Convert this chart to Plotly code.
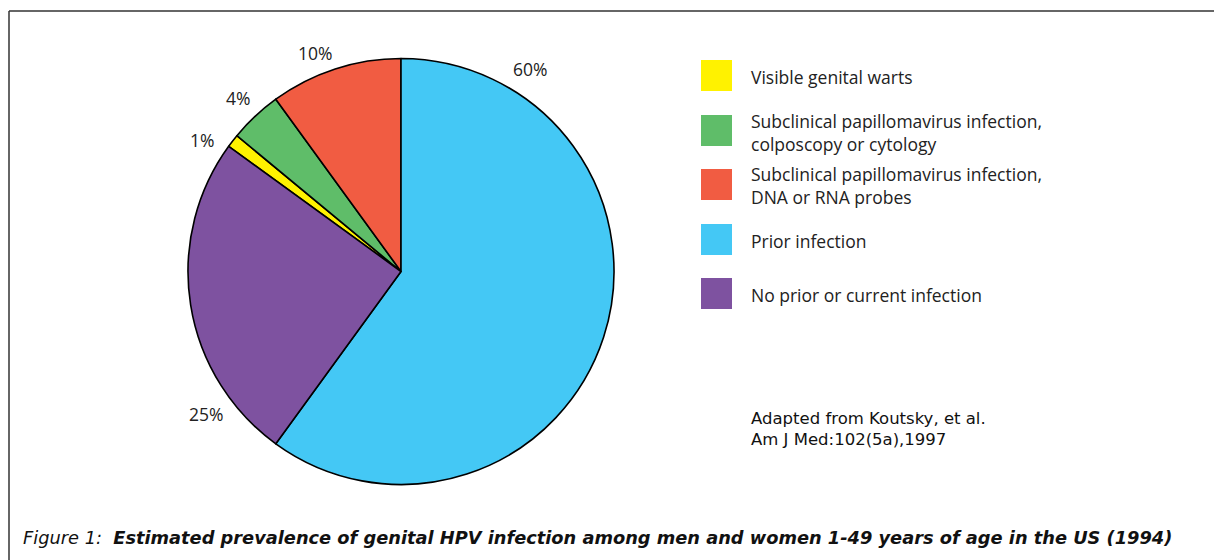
import plotly.graph_objects as go

W, H = 1214, 560

# ---- data ----
categories = [
    "Visible genital warts",
    "Subclinical papillomavirus infection,\ncolposcopy or cytology",
    "Subclinical papillomavirus infection,\nDNA or RNA probes",
    "Prior infection",
    "No prior or current infection",
]
values = [1, 4, 10, 60, 25]
colors = ["#FFF200", "#5FBD69", "#F15C42", "#44C8F5", "#7E52A0"]

caption_lead = "Figure 1:"
caption_text = "Estimated prevalence of genital HPV infection among men and women 1-49 years of age in the US (1994)"
source_lines = ["Adapted from Koutsky, et al.", "Am J Med:102(5a),1997"]

# ---- layout positions (pixels) ----
label_pos = [(202, 140), (238, 98), (315, 53), (530, 69), (206, 414)]
legend_sq_y = [60, 115, 169, 224, 278]
SQ = 31
legend_x = 701
legend_text_x = 749

cx, cy, r = 401, 271.5, 213
FONT = "Open Sans"


def px(x):
    return x / W


def py(y):
    return 1 - y / H


fig = go.Figure()
fig.add_trace(go.Pie(
    labels=[c.replace("\n", " ") for c in categories],
    values=values,
    marker=dict(colors=colors, line=dict(color="black", width=1.6)),
    sort=False,
    direction="clockwise",
    rotation=306,
    textinfo="none",
    hoverinfo="label+percent",
    showlegend=False,
    domain=dict(x=[px(cx - r), px(cx + r)], y=[py(cy + r), py(cy - r)]),
))

annotations = []
shapes = []

# percentage labels
for v, (lx, ly) in zip(values, label_pos):
    annotations.append(dict(
        x=px(lx), y=py(ly), xref="paper", yref="paper",
        text=f"{v}%", showarrow=False, xanchor="center", yanchor="middle",
        font=dict(family=FONT, size=17.5, color="#222222"),
    ))

# legend
for cat, col, sy in zip(categories, colors, legend_sq_y):
    shapes.append(dict(
        type="rect", xref="paper", yref="paper",
        x0=px(legend_x), x1=px(legend_x + SQ), y0=py(sy + SQ), y1=py(sy),
        fillcolor=col, line=dict(width=0),
    ))
    annotations.append(dict(
        x=px(legend_text_x), y=py(sy + SQ / 2 + 1.5), xref="paper", yref="paper",
        text=cat.replace("\n", "<br>"), showarrow=False, xanchor="left", yanchor="middle",
        align="left",
        font=dict(family=FONT, size=17.5, color="#222222"),
    ))

# source
annotations.append(dict(
    x=px(749), y=py(429), xref="paper", yref="paper",
    text="<br>".join(source_lines), showarrow=False, xanchor="left", yanchor="middle",
    align="left",
    font=dict(family="DejaVu Sans", size=16.5, color="#111111"),
))

# caption
annotations.append(dict(
    x=px(21), y=py(537), xref="paper", yref="paper",
    text=f"<i>{caption_lead}\u00a0\u00a0</i><b><i>{caption_text}</i></b>",
    showarrow=False, xanchor="left", yanchor="middle",
    font=dict(family="DejaVu Sans", size=17.8, color="#111111"),
))

# frame lines (top and left)
shapes.append(dict(type="line", xref="paper", yref="paper",
                   x0=px(9), x1=1, y0=py(11), y1=py(11),
                   line=dict(color="#333333", width=1.5)))
shapes.append(dict(type="line", xref="paper", yref="paper",
                   x0=px(9), x1=px(9), y0=py(11), y1=0,
                   line=dict(color="#333333", width=1.5)))

fig.update_layout(
    width=W, height=H,
    margin=dict(l=0, r=0, t=0, b=0),
    paper_bgcolor="white", plot_bgcolor="white",
    annotations=annotations, shapes=shapes,
    showlegend=False,
)

fig.write_html(
    "out.html",
    config={"displayModeBar": False},
    post_script="document.body.style.margin='0';document.body.style.overflow='hidden';",
)
